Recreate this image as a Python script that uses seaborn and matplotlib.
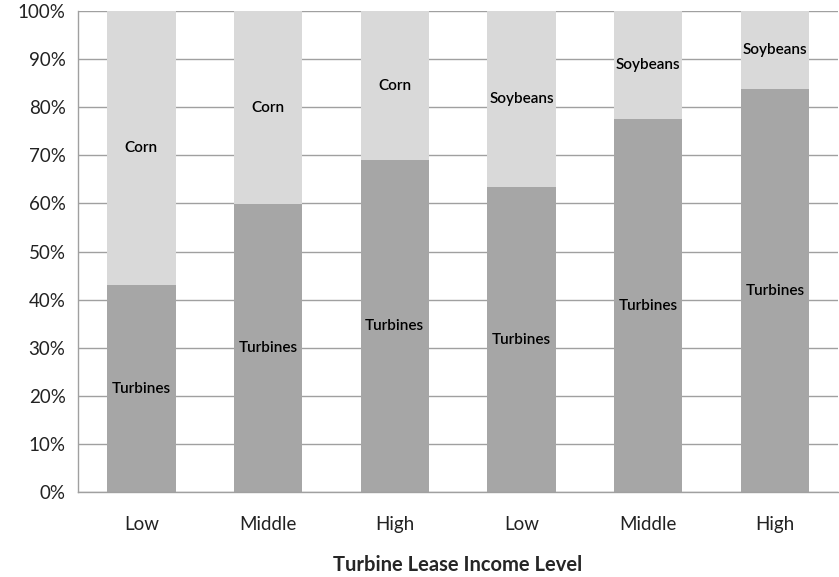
import numpy as np
import pandas as pd
import matplotlib.pyplot as plt
import seaborn as sns

sns.set_style('white')
plt.rcParams['font.family'] = ['Lato', 'DejaVu Sans']

# data
crops = ['Corn', 'Corn', 'Corn', 'Soybeans', 'Soybeans', 'Soybeans']
income = ['Low', 'Middle', 'High', 'Low', 'Middle', 'High']
turbines = [43.0, 59.8, 69.0, 63.4, 77.5, 83.8]
total = [100, 100, 100, 100, 100, 100]
y_ticks = [0, 10, 20, 30, 40, 50, 60, 70, 80, 90, 100]

df = pd.DataFrame({'bar': [str(i) for i in range(len(crops))],
                   'crop': crops, 'income': income,
                   'turbines': turbines, 'total': total})

light = '#d9d9d9'
dark = '#a6a6a6'
grid = '#a0a0a0'

fig = plt.figure(figsize=(8.39, 5.77), dpi=100)
ax = fig.add_axes([0.093, 0.147, 0.906, 0.834])

sns.barplot(data=df, x='bar', y='total', color=light, width=0.54,
            saturation=1, ax=ax, linewidth=0)
sns.barplot(data=df, x='bar', y='turbines', color=dark, width=0.54,
            saturation=1, ax=ax, linewidth=0)

# segment labels
for i, row in df.iterrows():
    ax.text(i, row['turbines'] / 2, 'Turbines', ha='center', va='center',
            fontsize=11, fontweight='semibold', color='black')
    ax.text(i, (row['turbines'] + row['total']) / 2, row['crop'],
            ha='center', va='center', fontsize=11, fontweight='semibold',
            color='black')

ax.set_xlim(-0.5, len(crops) - 0.5)
ax.set_ylim(0, 100)
ax.set_yticks(y_ticks)
ax.set_yticklabels([f'{v}%' for v in y_ticks], fontsize=13.5, color='#222222')
ax.set_xticks(range(len(crops)))
ax.set_xticklabels(income, fontsize=13.5, color='#222222')
ax.set_xticks(np.arange(-0.5, len(crops), 1), minor=True)
ax.tick_params(axis='x', which='major', length=0, pad=17)
ax.tick_params(axis='x', which='minor', length=5, color=grid, width=1)
ax.tick_params(axis='y', length=5, color=grid, width=1, pad=4)

ax.set_axisbelow(True)
ax.yaxis.grid(True, color=grid, linewidth=1)
for side in ['top', 'right']:
    ax.spines[side].set_visible(False)
for side in ['left', 'bottom']:
    ax.spines[side].set_color(grid)
    ax.spines[side].set_linewidth(1)

ax.set_ylabel('')
ax.set_xlabel('Turbine Lease Income Level', fontsize=14.5, fontweight='bold',
              labelpad=16)

fig.savefig('out.png', dpi=100)
